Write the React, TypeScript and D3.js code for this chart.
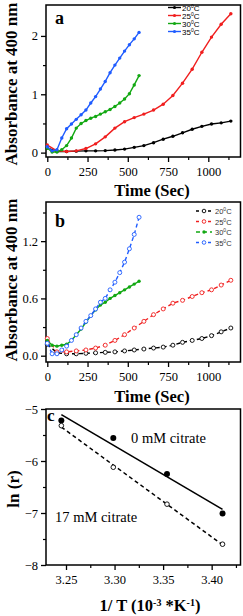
import * as d3 from "d3";
import { useEffect, useRef } from "react";

// time points (sec)
const tSlow = [0, 60, 120, 180, 240, 300, 360, 420, 480, 540, 600, 660, 720, 780, 840, 900, 960, 1020, 1080, 1140];
const tFast = [0, 30, 60, 90, 120, 150, 180, 210, 240, 270, 300, 330, 360, 390, 420, 450, 480, 510, 540, 570];

// panel a (absorbance at 400 nm)
const a20 = [0.08, 0.02, 0.02, 0.025, 0.03, 0.03, 0.035, 0.045, 0.06, 0.09, 0.12, 0.17, 0.23, 0.28, 0.34, 0.4, 0.45, 0.49, 0.51, 0.54];
const a25 = [0.13, 0.03, 0.02, 0.03, 0.07, 0.15, 0.27, 0.42, 0.53, 0.6, 0.66, 0.73, 0.83, 0.98, 1.19, 1.43, 1.72, 1.98, 2.2, 2.38];
const a30 = [0.08, 0.01, 0.01, 0.05, 0.12, 0.25, 0.42, 0.5, 0.55, 0.59, 0.62, 0.66, 0.7, 0.74, 0.79, 0.85, 0.92, 1.01, 1.16, 1.32];
const a35 = [0.1, 0.03, 0.05, 0.25, 0.41, 0.49, 0.57, 0.65, 0.73, 0.85, 0.96, 1.09, 1.22, 1.37, 1.5, 1.62, 1.74, 1.85, 1.95, 2.06];

// panel b
const b20 = [0.12, 0.03, 0.02, 0.02, 0.025, 0.03, 0.035, 0.04, 0.05, 0.06, 0.07, 0.08, 0.09, 0.11, 0.14, 0.16, 0.18, 0.21, 0.25, 0.29];
const b25 = [0.18, 0.04, 0.04, 0.05, 0.06, 0.08, 0.11, 0.16, 0.22, 0.29, 0.36, 0.43, 0.49, 0.55, 0.58, 0.62, 0.66, 0.69, 0.74, 0.79];
const b30 = [0.16, 0.11, 0.1, 0.11, 0.12, 0.16, 0.22, 0.28, 0.35, 0.42, 0.48, 0.53, 0.56, 0.6, 0.63, 0.66, 0.69, 0.72, 0.75, 0.78];
const b35 = [0.13, 0.02, 0.02, 0.06, 0.1, 0.16, 0.22, 0.29, 0.36, 0.42, 0.49, 0.56, 0.6, 0.69, 0.77, 0.87, 0.98, 1.12, 1.27, 1.45];

// panel c (Arrhenius)
const invT = [3.2452, 3.2987, 3.354, 3.4112];
const lnR0 = [-5.22, -5.56, -6.25, -7.01];
const lnR17 = [-5.32, -6.12, -6.83, -7.6];

const tempLabels = ["20", "25", "30", "35"];
const colors = ["#000000", "#f01e1e", "#12a812", "#1f5cff"];

const serif = "'Liberation Serif', 'Times New Roman', serif";
const sans = "'Liberation Sans', Arial, sans-serif";

const App = () => {
  const ref = useRef(null);

  useEffect(() => {
    const svg = d3.select(ref.current);
    svg.selectAll("*").remove();

    const L = 46, R = 240.5;

    const frame = (top, bottom) =>
      svg.append("rect").attr("x", L).attr("y", top).attr("width", R - L).attr("height", bottom - top)
        .attr("fill", "none").attr("stroke", "#000").attr("stroke-width", 1.5);

    const axes = (x, y, top, bottom, xTicks, xMinor, yTicks, yMinor, xFmt, yFmt) => {
      const gx = svg.append("g").attr("transform", `translate(0,${bottom})`)
        .call(d3.axisBottom(x).tickValues(xTicks).tickSize(5).tickSizeOuter(0).tickFormat(xFmt));
      gx.select(".domain").remove();
      gx.selectAll("text").style("font-family", serif).style("font-size", "12.5px").attr("dy", "0.9em");
      gx.selectAll("line").attr("stroke-width", 1.3);
      const gxm = svg.append("g").attr("transform", `translate(0,${bottom})`)
        .call(d3.axisBottom(x).tickValues(xMinor).tickSize(3).tickFormat(() => ""));
      gxm.select(".domain").remove();
      gxm.selectAll("line").attr("stroke-width", 1.2);

      const gy = svg.append("g").attr("transform", `translate(${L},0)`)
        .call(d3.axisLeft(y).tickValues(yTicks).tickSize(5).tickSizeOuter(0).tickFormat(yFmt));
      gy.select(".domain").remove();
      gy.selectAll("text").style("font-family", serif).style("font-size", "12.5px");
      gy.selectAll("line").attr("stroke-width", 1.3);
      const gym = svg.append("g").attr("transform", `translate(${L},0)`)
        .call(d3.axisLeft(y).tickValues(yMinor).tickSize(3).tickFormat(() => ""));
      gym.select(".domain").remove();
      gym.selectAll("line").attr("stroke-width", 1.2);
      frame(top, bottom);
    };

    const bigText = (txt, x, y, size, rotate = false) =>
      svg.append("text").attr("x", x).attr("y", y).attr("text-anchor", "middle")
        .attr("transform", rotate ? `rotate(-90,${x},${y})` : null)
        .style("font-family", serif).style("font-weight", "bold").style("font-size", size + "px").text(txt);

    // ---------- panel a ----------
    const xa = d3.scaleLinear().domain([-8, 1200]).range([L, R]);
    const ya = d3.scaleLinear().domain([-0.075, 2.53]).range([157, 5]);
    axes(xa, ya, 5, 157, [0, 250, 500, 750, 1000], [125, 375, 625, 875, 1125], [0, 1, 2], [0.5, 1.5], d3.format("d"), d3.format("d"));

    const seriesA = [[tSlow, a20], [tSlow, a25], [tFast, a30], [tFast, a35]];
    seriesA.forEach(([ts, vs], i) => {
      const pts = ts.map((t, j) => [t, vs[j]]);
      svg.append("path").datum(pts)
        .attr("d", d3.line().x((d) => xa(d[0])).y((d) => ya(d[1])))
        .attr("fill", "none").attr("stroke", colors[i]).attr("stroke-width", 1.4);
      svg.append("g").selectAll("circle").data(pts).join("circle")
        .attr("cx", (d) => xa(d[0])).attr("cy", (d) => ya(d[1])).attr("r", 1.7).attr("fill", colors[i]);
    });

    tempLabels.forEach((lab, i) => {
      const yy = 7.5 + i * 8;
      svg.append("line").attr("x1", 168).attr("x2", 181).attr("y1", yy).attr("y2", yy)
        .attr("stroke", colors[i]).attr("stroke-width", 1.4);
      svg.append("circle").attr("cx", 174.5).attr("cy", yy).attr("r", 1.6).attr("fill", colors[i]);
      const t = svg.append("text").attr("x", 182).attr("y", yy + 3).style("font-family", sans).style("font-size", "8px");
      t.append("tspan").text(lab);
      t.append("tspan").attr("dy", -3).style("font-size", "5px").text("0");
      t.append("tspan").attr("dy", 3).text("C");
    });

    svg.append("text").attr("x", 55).attr("y", 24).style("font-family", serif).style("font-weight", "bold").style("font-size", "18px").text("a");
    bigText("Absorbance at 400 nm", 17, 84, 17, true);
    bigText("Time (Sec)", 152, 196, 16.5);

    // ---------- panel b ----------
    const xb = d3.scaleLinear().domain([-8, 1200]).range([L, R]);
    const yb = d3.scaleLinear().domain([-0.066, 1.61]).range([362, 202]);
    axes(xb, yb, 202, 362, [0, 250, 500, 750, 1000], [125, 375, 625, 875, 1125], [0, 0.6, 1.2], [0.3, 0.9, 1.5], d3.format("d"), d3.format(".1f"));

    const seriesB = [[tSlow, b20], [tSlow, b25], [tFast, b30], [tFast, b35]];
    seriesB.forEach(([ts, vs], i) => {
      const pts = ts.map((t, j) => [t, vs[j]]);
      const filled = i === 2;
      svg.append("path").datum(pts)
        .attr("d", d3.line().x((d) => xb(d[0])).y((d) => yb(d[1])))
        .attr("fill", "none").attr("stroke", colors[i]).attr("stroke-width", 1.4)
        .attr("stroke-dasharray", filled ? null : "4,3");
      svg.append("g").selectAll("circle").data(pts).join("circle")
        .attr("cx", (d) => xb(d[0])).attr("cy", (d) => yb(d[1])).attr("r", filled ? 1.7 : 2)
        .attr("fill", filled ? colors[i] : "#fff").attr("stroke", colors[i]).attr("stroke-width", filled ? 0 : 0.9);
    });

    tempLabels.forEach((lab, i) => {
      const yy = 211 + i * 10.5;
      svg.append("line").attr("x1", 196).attr("x2", 212).attr("y1", yy).attr("y2", yy)
        .attr("stroke", colors[i]).attr("stroke-width", 1.4).attr("stroke-dasharray", i === 2 ? "4,3" : "3,3");
      svg.append("circle").attr("cx", 204).attr("cy", yy).attr("r", i === 2 ? 1.7 : 1.8)
        .attr("fill", i === 2 ? colors[i] : "#fff").attr("stroke", colors[i]).attr("stroke-width", i === 2 ? 0 : 0.9);
      const t = svg.append("text").attr("x", 215).attr("y", yy + 3).style("font-family", sans).style("font-size", "7.5px").attr("fill", "#333");
      t.append("tspan").text(lab);
      t.append("tspan").attr("dy", -3).style("font-size", "5px").text("0");
      t.append("tspan").attr("dy", 3).text("C");
    });

    svg.append("text").attr("x", 55).attr("y", 227).style("font-family", serif).style("font-weight", "bold").style("font-size", "18px").text("b");
    bigText("Absorbance at 400 nm", 17, 280, 17, true);
    bigText("Time (Sec)", 152, 402, 16.5);

    // ---------- panel c ----------
    const xc = d3.scaleLinear().domain([3.2294, 3.4297]).range([L, R]);
    const yc = d3.scaleLinear().domain([-8, -5]).range([565, 409]);
    axes(xc, yc, 409, 565, [3.25, 3.3, 3.35, 3.4], [3.275, 3.325, 3.375, 3.425], [-5, -6, -7, -8], [-5.5, -6.5, -7.5], d3.format(".2f"), d3.format("d"));

    const fit = (xs, ys) => {
      const mx = d3.mean(xs), my = d3.mean(ys);
      const sxy = d3.sum(xs, (x, k) => (x - mx) * (ys[k] - my));
      const sxx = d3.sum(xs, (x) => (x - mx) ** 2);
      const m = sxy / sxx;
      return (x) => my + m * (x - mx);
    };
    const f0 = fit(invT, lnR0);
    const f17 = fit(invT, lnR17);
    const x0 = invT[0], x1 = invT[invT.length - 1];
    svg.append("line").attr("x1", xc(x0)).attr("x2", xc(x1)).attr("y1", yc(f0(x0))).attr("y2", yc(f0(x1)))
      .attr("stroke", "#000").attr("stroke-width", 1.6);
    svg.append("line").attr("x1", xc(x0)).attr("x2", xc(x1)).attr("y1", yc(f17(x0))).attr("y2", yc(f17(x1)))
      .attr("stroke", "#000").attr("stroke-width", 1.5).attr("stroke-dasharray", "4,3");

    svg.append("g").selectAll("circle").data(invT).join("circle")
      .attr("cx", (d) => xc(d)).attr("cy", (d, k) => yc(lnR0[k])).attr("r", 3).attr("fill", "#000");
    svg.append("g").selectAll("circle").data(invT).join("circle")
      .attr("cx", (d) => xc(d)).attr("cy", (d, k) => yc(lnR17[k])).attr("r", 2.3)
      .attr("fill", "#fff").attr("stroke", "#000").attr("stroke-width", 0.9);

    svg.append("text").attr("x", 47).attr("y", 421).style("font-family", serif).style("font-weight", "bold").style("font-size", "17px").text("c");
    svg.append("text").attr("x", 131).attr("y", 443).style("font-family", serif).style("font-size", "14.5px").text("0 mM citrate");
    svg.append("text").attr("x", 55).attr("y", 522).style("font-family", serif).style("font-size", "14.5px").text("17 mM citrate");

    bigText("ln (r)", 19, 489, 17, true);
    const xt = svg.append("text").attr("x", 150).attr("y", 611).attr("text-anchor", "middle")
      .style("font-family", serif).style("font-weight", "bold").style("font-size", "16.5px");
    xt.append("tspan").text("1/ T (10");
    xt.append("tspan").attr("dy", -5).style("font-size", "10px").text("-3");
    xt.append("tspan").attr("dy", 5).text(" *K");
    xt.append("tspan").attr("dy", -5).style("font-size", "10px").text("-1");
    xt.append("tspan").attr("dy", 5).text(")");
  }, []);

  return (
    <svg ref={ref} width={243} height={616} style={{ position: "absolute", left: 0, top: 0, background: "#fff" }} />
  );
};

export default App;
